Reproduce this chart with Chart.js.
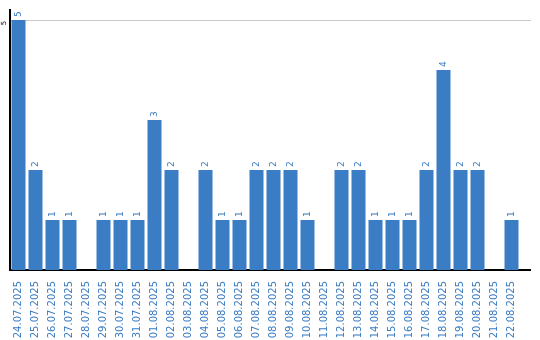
<!DOCTYPE html>
<html>
<head>
<meta charset="utf-8">
<script src="https://cdn.jsdelivr.net/npm/chart.js@4"></script>
<style>
    html, body { margin: 0; padding: 0; background: #fff; }
    canvas { display: block; }
</style>
</head>
<body>
<canvas id="dayChart" width="540" height="340"></canvas>
<script>
// days and counts
const days = [
    '24.07.2025', '25.07.2025', '26.07.2025', '27.07.2025', '28.07.2025',
    '29.07.2025', '30.07.2025', '31.07.2025', '01.08.2025', '02.08.2025',
    '03.08.2025', '04.08.2025', '05.08.2025', '06.08.2025', '07.08.2025',
    '08.08.2025', '09.08.2025', '10.08.2025', '11.08.2025', '12.08.2025',
    '13.08.2025', '14.08.2025', '15.08.2025', '16.08.2025', '17.08.2025',
    '18.08.2025', '19.08.2025', '20.08.2025', '21.08.2025', '22.08.2025'
];
const counts = [5, 2, 1, 1, 0, 1, 1, 1, 3, 2, 0, 2, 1, 1, 2, 2, 2, 1, 0, 2, 2, 1, 1, 1, 2, 4, 2, 2, 0, 1];
const yTicks = [5];

const barColor = '#3b7dc4';
const textColor = '#3a7bc2';
const fontFamily = '"DejaVu Sans", Verdana, sans-serif';

// rotated value labels over bars, the lone y tick and the axis lines running past the last bar
const extrasPlugin = {
    id: 'extras',
    afterDraw(chart) {
        const ctx = chart.ctx;
        const area = chart.chartArea;
        const yScale = chart.scales.y;

        ctx.save();
        // lines continue a bit to the right
        const yTop = yScale.getPixelForValue(5);
        ctx.strokeStyle = '#c8c8c8';
        ctx.lineWidth = 1;
        ctx.beginPath();
        ctx.moveTo(area.right, Math.round(yTop) + 0.5);
        ctx.lineTo(area.right + 11, Math.round(yTop) + 0.5);
        ctx.stroke();
        ctx.strokeStyle = '#000';
        ctx.lineWidth = 2;
        ctx.beginPath();
        ctx.moveTo(area.right - 1, area.bottom);
        ctx.lineTo(area.right + 11, area.bottom);
        ctx.stroke();

        // y tick
        ctx.fillStyle = '#000';
        ctx.font = '7px ' + fontFamily;
        yTicks.forEach(function (v) {
            const py = yScale.getPixelForValue(v);
            ctx.save();
            ctx.translate(area.left - 4, py + 3);
            ctx.rotate(-Math.PI / 2);
            ctx.textAlign = 'center';
            ctx.textBaseline = 'alphabetic';
            ctx.fillText(String(v), 0, 0);
            ctx.restore();
        });

        // value labels
        const meta = chart.getDatasetMeta(0);
        ctx.fillStyle = textColor;
        ctx.font = '9px ' + fontFamily;
        meta.data.forEach(function (bar, i) {
            if (!counts[i]) return;
            ctx.save();
            ctx.translate(bar.x, bar.y - 3);
            ctx.rotate(-Math.PI / 2);
            ctx.textAlign = 'left';
            ctx.textBaseline = 'middle';
            ctx.fillText(String(counts[i]), 0, 0);
            ctx.restore();
        });
        ctx.restore();
    }
};

new Chart(document.getElementById('dayChart').getContext('2d'), {
    type: 'bar',
    data: {
        labels: days,
        datasets: [{
            data: counts,
            backgroundColor: barColor,
            borderWidth: 0,
            barPercentage: 14 / 17,
            categoryPercentage: 1
        }]
    },
    options: {
        responsive: false,
        animation: false,
        layout: { padding: { left: 9, right: 20, top: 10, bottom: 0 } },
        plugins: {
            legend: { display: false },
            tooltip: { enabled: false }
        },
        scales: {
            x: {
                afterFit(scale) { scale.height = 70; },
                grid: { display: false },
                border: { color: '#000', width: 2 },
                ticks: {
                    color: textColor,
                    font: { size: 10, family: fontFamily },
                    minRotation: 90,
                    maxRotation: 90,
                    autoSkip: false,
                    padding: 3
                }
            },
            y: {
                min: 0,
                max: 5.2,
                afterFit(scale) { scale.width = 1; },
                afterBuildTicks(scale) {
                    scale.ticks = yTicks.map(function (v) { return { value: v }; });
                },
                grid: { color: '#c8c8c8', drawTicks: false },
                border: { color: '#000', width: 2 },
                ticks: { display: false }
            }
        }
    },
    plugins: [extrasPlugin]
});
</script>
</body>
</html>
